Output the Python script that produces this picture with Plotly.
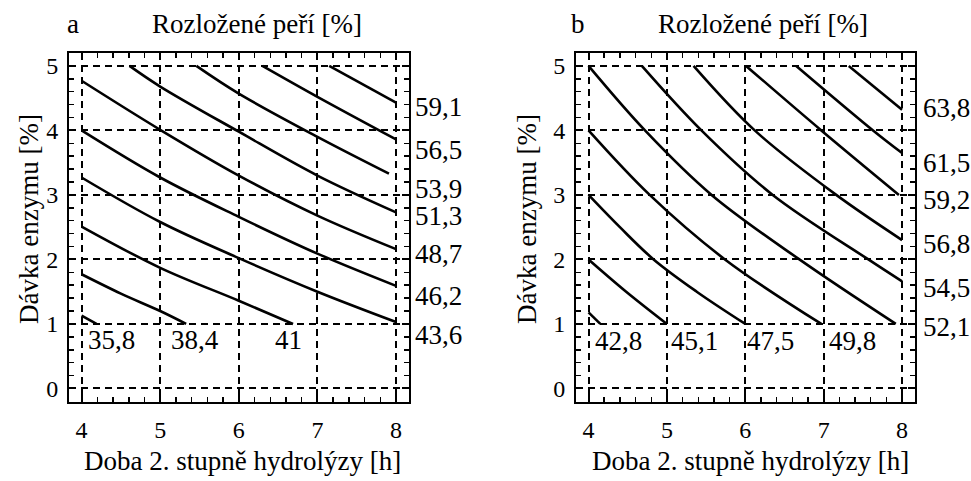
import plotly.graph_objects as go

# ---------------- data ----------------
# Panel a: contour lines of "Rozložené peří [%]"
A_LEVELS = ["35,8", "38,4", "41", "43,6", "46,2", "48,7", "51,3", "53,9", "56,5", "59,1"]
A_LINES_X = [
    [4.0, 4.19],
    [4.0, 4.5, 5.0, 5.33],
    [4.0, 5.0, 6.0, 6.69],
    [4.0, 5.0, 6.0, 7.0, 8.0],
    [4.0, 5.0, 6.0, 7.0, 8.0],
    [4.0, 5.0, 6.0, 7.0, 8.0],
    [4.61, 5.0, 6.0, 7.0, 8.0],
    [5.46, 6.0, 7.0, 7.91],
    [6.30, 7.0, 8.0],
    [7.15, 8.0],
]
A_LINES_Y = [
    [1.13, 1.0],
    [1.77, 1.47, 1.20, 1.0],
    [2.51, 1.87, 1.36, 1.0],
    [3.27, 2.58, 2.02, 1.50, 1.03],
    [4.0, 3.27, 2.66, 2.09, 1.59],
    [4.77, 4.01, 3.30, 2.68, 2.16],
    [5.0, 4.68, 3.98, 3.30, 2.73],
    [5.0, 4.57, 3.90, 3.33],
    [5.0, 4.52, 3.86],
    [5.0, 4.43],
]
# label positions: bottom labels in data coords (centre), right labels at y only
A_BOTTOM_X = [4.385, 5.448, 6.63]
A_LABEL_Y = [0.75, 0.75, 0.75, 0.83, 1.43, 2.08, 2.67, 3.09, 3.69, 4.36]

# Panel b
B_LEVELS = ["42,8", "45,1", "47,5", "49,8", "52,1", "54,5", "56,8", "59,2", "61,5", "63,8"]
B_LINES_X = [
    [4.0, 4.15],
    [4.0, 4.48, 5.0],
    [4.0, 4.4, 4.83, 5.38, 6.0],
    [4.0, 4.78, 5.74, 6.97],
    [4.0, 4.72, 5.57, 6.69, 7.92],
    [4.68, 5.44, 6.35, 7.57, 8.0],
    [5.34, 6.12, 7.16, 8.0],
    [6.01, 6.97, 7.96],
    [6.65, 7.63, 8.0],
    [7.32, 8.0],
]
B_LINES_Y = [
    [1.18, 1.0],
    [2.0, 1.5, 1.0],
    [3.0, 2.5, 2.0, 1.5, 1.0],
    [4.0, 3.0, 2.0, 1.0],
    [5.0, 4.0, 3.0, 2.0, 1.0],
    [5.0, 4.0, 3.0, 2.0, 1.66],
    [5.0, 4.0, 3.0, 2.30],
    [5.0, 4.0, 3.0],
    [5.0, 4.0, 3.65],
    [5.0, 4.32],
]
B_BOTTOM_X = [4.38, 5.355, 6.32, 7.37]
B_LABEL_Y = [0.73, 0.73, 0.73, 0.73, 0.95, 1.56, 2.24, 2.92, 3.49, 4.34]

X_TICKS = [4, 5, 6, 7, 8]
Y_TICKS = [0, 1, 2, 3, 4, 5]

TITLE = "Rozložené peří [%]"
X_TITLE = "Doba 2. stupně hydrolýzy [h]"
Y_TITLE = "Dávka enzymu [%]"
PANELS = ["a", "b"]

# ---------------- figure ----------------
W, H = 971, 481
ML, MR, MT, MB = 69, 56, 53, 79
PW, PH = W - ML - MR, H - MT - MB
FONT = "Liberation Serif, Times New Roman, serif"
FS = 27


def px_x(px):
    return (px - ML) / PW


def px_y(py):
    return (H - MB - py) / PH


fig = go.Figure()

for xs_list, ys_list, xa, ya in [
    (A_LINES_X, A_LINES_Y, "x", "y"),
    (B_LINES_X, B_LINES_Y, "x2", "y2"),
]:
    for xs, ys in zip(xs_list, ys_list):
        fig.add_trace(
            go.Scatter(
                x=xs, y=ys, mode="lines", xaxis=xa, yaxis=ya,
                line=dict(color="black", width=2.6, shape="spline", smoothing=1.0),
                showlegend=False, hoverinfo="skip",
            )
        )

axis_common = dict(
    showline=True, linecolor="black", linewidth=2, mirror="allticks",
    ticks="inside", ticklen=7, tickwidth=2, tickcolor="black",
    showgrid=True, gridcolor="black", gridwidth=2, griddash="7px,5px",
    zeroline=False,
    tickfont=dict(family=FONT, size=24, color="black"),
    minor=dict(dtick=0.2, ticks="inside", ticklen=5, tickwidth=1.5,
               tickcolor="black", showgrid=False),
)

xa_cfg = dict(axis_common, range=[3.84, 8.165], tickvals=X_TICKS, ticklabelstandoff=5)
xa_cfg["minor"] = dict(axis_common["minor"], tick0=4)
ya_cfg = dict(axis_common, range=[-0.21, 5.2], tickvals=Y_TICKS, ticklabelstandoff=4)
ya_cfg["minor"] = dict(axis_common["minor"], tick0=0)

fig.update_layout(
    width=W, height=H,
    margin=dict(l=ML, r=MR, t=MT, b=MB),
    paper_bgcolor="white", plot_bgcolor="white",
    font=dict(family=FONT, color="black"),
    xaxis=dict(xa_cfg, domain=[0, 340 / PW], anchor="y"),
    yaxis=dict(ya_cfg, domain=[0, 1], anchor="x"),
    xaxis2=dict(xa_cfg, domain=[507 / PW, 1], anchor="y2"),
    yaxis2=dict(ya_cfg, domain=[0, 1], anchor="x2"),
)

lab_font = dict(family=FONT, size=FS, color="black")
ann = []
# contour labels
for labels, bx, ly, xr, yr, right_px in [
    (A_LEVELS, A_BOTTOM_X, A_LABEL_Y, "x", "y", 438),
    (B_LEVELS, B_BOTTOM_X, B_LABEL_Y, "x2", "y2", 946),
]:
    for i, (t, y) in enumerate(zip(labels, ly)):
        if i < len(bx):
            ann.append(dict(text=t, x=bx[i], y=y, xref=xr, yref=yr, xanchor="center",
                            yanchor="middle", showarrow=False, font=lab_font))
        else:
            ann.append(dict(text=t, x=px_x(right_px), y=y, xref="paper", yref=yr,
                            xanchor="center", yanchor="middle",
                            showarrow=False, font=lab_font))

# panel letters and titles
for letter, lx, tx, xt, yt in [
    (PANELS[0], 73, 256.5, 242.5, 29),
    (PANELS[1], 578, 762.5, 750, 527),
]:
    ann.append(dict(text=letter, x=px_x(lx), y=px_y(24), xref="paper", yref="paper",
                    xanchor="center", yanchor="middle", showarrow=False, font=lab_font))
    ann.append(dict(text=TITLE, x=px_x(tx), y=px_y(24), xref="paper", yref="paper",
                    xanchor="center", yanchor="middle", showarrow=False, font=lab_font))
    ann.append(dict(text=X_TITLE, x=px_x(xt), y=px_y(461), xref="paper", yref="paper",
                    xanchor="center", yanchor="middle", showarrow=False, font=lab_font))
    ann.append(dict(text=Y_TITLE, x=px_x(yt), y=px_y(219), xref="paper", yref="paper",
                    xanchor="center", yanchor="middle", showarrow=False,
                    textangle=-90, font=lab_font))

fig.update_layout(annotations=ann)
fig.write_html(
    "out.html",
    config={"displayModeBar": False, "staticPlot": True},
    post_script="document.body.style.margin='0';document.body.style.overflow='hidden';",
)
